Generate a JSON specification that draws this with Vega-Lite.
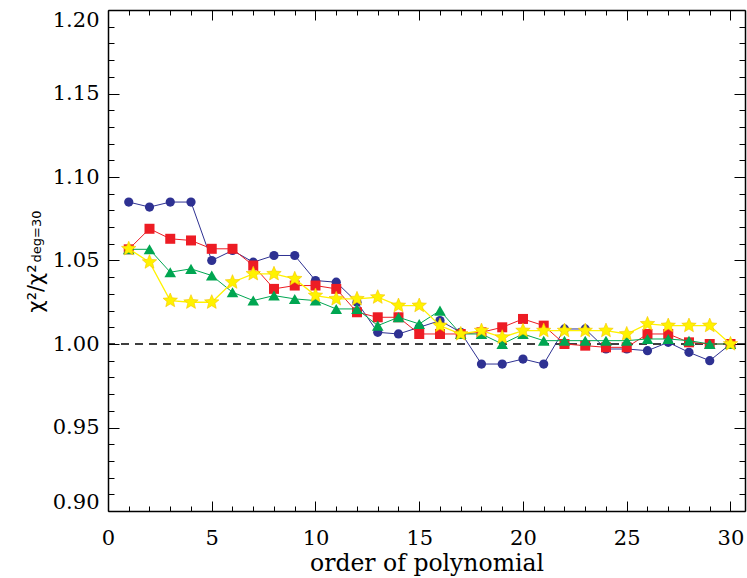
{
  "$schema": "https://vega.github.io/schema/vega-lite/v6.json",
  "width": 637,
  "height": 501,
  "autosize": "none",
  "padding": {"left": 108, "top": 10, "right": 2, "bottom": 67},
  "background": "white",
  "view": {"stroke": null},
  "config": {
    "axis": {
      "grid": false,
      "domainColor": "black",
      "domainWidth": 1.5,
      "tickColor": "black",
      "tickWidth": 1,
      "labelColor": "black",
      "labelFont": "DejaVu Serif",
      "labelFontSize": 21,
      "titleColor": "black",
      "titleFontWeight": "normal"
    }
  },
  "datasets": {
    "d": [
      {"n":1,"s":"A","v":1.085},{"n":2,"s":"A","v":1.082},{"n":3,"s":"A","v":1.085},{"n":4,"s":"A","v":1.085},{"n":5,"s":"A","v":1.050},{"n":6,"s":"A","v":1.056},{"n":7,"s":"A","v":1.049},{"n":8,"s":"A","v":1.053},{"n":9,"s":"A","v":1.053},{"n":10,"s":"A","v":1.038},{"n":11,"s":"A","v":1.037},{"n":12,"s":"A","v":1.025},{"n":13,"s":"A","v":1.007},{"n":14,"s":"A","v":1.006},{"n":15,"s":"A","v":1.010},{"n":16,"s":"A","v":1.014},{"n":17,"s":"A","v":1.007},{"n":18,"s":"A","v":0.988},{"n":19,"s":"A","v":0.988},{"n":20,"s":"A","v":0.991},{"n":21,"s":"A","v":0.988},{"n":22,"s":"A","v":1.009},{"n":23,"s":"A","v":1.009},{"n":24,"s":"A","v":0.997},{"n":25,"s":"A","v":0.997},{"n":26,"s":"A","v":0.996},{"n":27,"s":"A","v":1.001},{"n":28,"s":"A","v":0.995},{"n":29,"s":"A","v":0.990},{"n":30,"s":"A","v":1.000},
      {"n":1,"s":"B","v":1.0567},{"n":2,"s":"B","v":1.069},{"n":3,"s":"B","v":1.063},{"n":4,"s":"B","v":1.062},{"n":5,"s":"B","v":1.057},{"n":6,"s":"B","v":1.057},{"n":7,"s":"B","v":1.047},{"n":8,"s":"B","v":1.033},{"n":9,"s":"B","v":1.035},{"n":10,"s":"B","v":1.035},{"n":11,"s":"B","v":1.033},{"n":12,"s":"B","v":1.019},{"n":13,"s":"B","v":1.016},{"n":14,"s":"B","v":1.016},{"n":15,"s":"B","v":1.006},{"n":16,"s":"B","v":1.006},{"n":17,"s":"B","v":1.006},{"n":18,"s":"B","v":1.007},{"n":19,"s":"B","v":1.010},{"n":20,"s":"B","v":1.015},{"n":21,"s":"B","v":1.011},{"n":22,"s":"B","v":1.000},{"n":23,"s":"B","v":0.999},{"n":24,"s":"B","v":0.998},{"n":25,"s":"B","v":0.998},{"n":26,"s":"B","v":1.006},{"n":27,"s":"B","v":1.006},{"n":28,"s":"B","v":1.001},{"n":29,"s":"B","v":1.000},{"n":30,"s":"B","v":1.000},
      {"n":1,"s":"C","v":1.0567},{"n":2,"s":"C","v":1.0567},{"n":3,"s":"C","v":1.043},{"n":4,"s":"C","v":1.045},{"n":5,"s":"C","v":1.041},{"n":6,"s":"C","v":1.031},{"n":7,"s":"C","v":1.026},{"n":8,"s":"C","v":1.029},{"n":9,"s":"C","v":1.027},{"n":10,"s":"C","v":1.026},{"n":11,"s":"C","v":1.021},{"n":12,"s":"C","v":1.021},{"n":13,"s":"C","v":1.011},{"n":14,"s":"C","v":1.016},{"n":15,"s":"C","v":1.012},{"n":16,"s":"C","v":1.020},{"n":17,"s":"C","v":1.006},{"n":18,"s":"C","v":1.006},{"n":19,"s":"C","v":1.000},{"n":20,"s":"C","v":1.006},{"n":21,"s":"C","v":1.002},{"n":22,"s":"C","v":1.002},{"n":23,"s":"C","v":1.002},{"n":24,"s":"C","v":1.002},{"n":25,"s":"C","v":1.002},{"n":26,"s":"C","v":1.003},{"n":27,"s":"C","v":1.003},{"n":28,"s":"C","v":1.002},{"n":29,"s":"C","v":1.000},{"n":30,"s":"C","v":1.000},
      {"n":1,"s":"D","v":1.057},{"n":2,"s":"D","v":1.049},{"n":3,"s":"D","v":1.026},{"n":4,"s":"D","v":1.025},{"n":5,"s":"D","v":1.025},{"n":6,"s":"D","v":1.037},{"n":7,"s":"D","v":1.042},{"n":8,"s":"D","v":1.042},{"n":9,"s":"D","v":1.039},{"n":10,"s":"D","v":1.029},{"n":11,"s":"D","v":1.027},{"n":12,"s":"D","v":1.027},{"n":13,"s":"D","v":1.028},{"n":14,"s":"D","v":1.023},{"n":15,"s":"D","v":1.023},{"n":16,"s":"D","v":1.011},{"n":17,"s":"D","v":1.006},{"n":18,"s":"D","v":1.008},{"n":19,"s":"D","v":1.004},{"n":20,"s":"D","v":1.008},{"n":21,"s":"D","v":1.008},{"n":22,"s":"D","v":1.008},{"n":23,"s":"D","v":1.008},{"n":24,"s":"D","v":1.008},{"n":25,"s":"D","v":1.006},{"n":26,"s":"D","v":1.012},{"n":27,"s":"D","v":1.011},{"n":28,"s":"D","v":1.011},{"n":29,"s":"D","v":1.011},{"n":30,"s":"D","v":1.000}
    ],
    "ref": [{"v": 1.0}]
  },
  "resolve": {"axis": {"x": "independent", "y": "independent"}},
  "layer": [
    {
      "data": {"name": "ref"},
      "mark": {"type": "rule", "color": "black", "strokeWidth": 1.3, "strokeDash": [8, 6]},
      "encoding": {
        "y": {"field": "v", "type": "quantitative", "scale": {"domain": [0.9, 1.2], "nice": false, "zero": false}, "axis": null}
      }
    },
    {
      "data": {"name": "d"},
      "transform": [{"filter": "datum.s === 'A'"}],
      "mark": {"type": "line", "color": "#2E3192", "strokeWidth": 1},
      "encoding": {
        "x": {"field": "n", "type": "quantitative", "scale": {"domain": [0, 30.7], "nice": false, "zero": false},
          "axis": {"orient": "bottom", "values": [0,1,2,3,4,5,6,7,8,9,10,11,12,13,14,15,16,17,18,19,20,21,22,23,24,25,26,27,28,29,30],
            "labelExpr": "datum.value % 5 === 0 ? datum.label : ''", "format": "d", "labelFlush": false,
            "tickSize": {"condition": {"test": "datum.value % 5 === 0", "value": -10}, "value": -5},
            "labelPadding": 26,
            "title": "order of polynomial", "titleFont": "DejaVu Serif", "titleFontSize": 23.5, "titleY": 59, "titleBaseline": "alphabetic"}},
        "y": {"field": "v", "type": "quantitative", "scale": {"domain": [0.9, 1.2], "nice": false, "zero": false},
          "axis": {"orient": "left", "values": [0.9,0.91,0.92,0.93,0.94,0.95,0.96,0.97,0.98,0.99,1.0,1.01,1.02,1.03,1.04,1.05,1.06,1.07,1.08,1.09,1.1,1.11,1.12,1.13,1.14,1.15,1.16,1.17,1.18,1.19,1.2],
            "labelExpr": "round(datum.value * 100) % 5 === 0 ? format(datum.value, '.2f') : ''",
            "labelFlush": true, "labelFlushOffset": 1,
            "tickSize": {"condition": {"test": "round(datum.value * 100) % 5 === 0", "value": -11}, "value": -6},
            "labelPadding": 20,
            "title": "χ²/χ²", "titleFont": "DejaVu Sans", "titleFontSize": 21, "titleAngle": 270, "titleAlign": "left", "titleBaseline": "alphabetic", "titleX": -66, "titleY": 302}}
      }
    },
    {
      "data": {"name": "d"},
      "transform": [{"filter": "datum.s === 'A'"}],
      "mark": {"type": "point", "shape": "circle", "filled": true, "opacity": 1, "color": "#2E3192", "size": 85},
      "encoding": {
        "x": {"field": "n", "type": "quantitative", "scale": {"domain": [0, 30.7], "nice": false, "zero": false}, "axis": null},
        "y": {"field": "v", "type": "quantitative", "scale": {"domain": [0.9, 1.2], "nice": false, "zero": false}, "axis": null}
      }
    },
    {
      "data": {"name": "d"},
      "transform": [{"filter": "datum.s === 'B'"}],
      "mark": {"type": "line", "color": "#ED1C24", "strokeWidth": 1},
      "encoding": {
        "x": {"field": "n", "type": "quantitative", "scale": {"domain": [0, 30.7], "nice": false, "zero": false},
          "axis": {"orient": "top", "values": [0,1,2,3,4,5,6,7,8,9,10,11,12,13,14,15,16,17,18,19,20,21,22,23,24,25,26,27,28,29,30],
            "tickSize": {"condition": {"test": "datum.value % 5 === 0", "value": -10}, "value": -5},
            "labels": false, "title": null}},
        "y": {"field": "v", "type": "quantitative", "scale": {"domain": [0.9, 1.2], "nice": false, "zero": false},
          "axis": {"orient": "right", "values": [0.9,0.91,0.92,0.93,0.94,0.95,0.96,0.97,0.98,0.99,1.0,1.01,1.02,1.03,1.04,1.05,1.06,1.07,1.08,1.09,1.1,1.11,1.12,1.13,1.14,1.15,1.16,1.17,1.18,1.19,1.2],
            "tickSize": {"condition": {"test": "round(datum.value * 100) % 5 === 0", "value": -11}, "value": -6},
            "labels": false,
            "title": "deg=30", "titleFont": "DejaVu Sans", "titleFontSize": 13, "titleAngle": 270, "titleAlign": "left", "titleBaseline": "alphabetic", "titleX": -705, "titleY": 252}}
      }
    },
    {
      "data": {"name": "d"},
      "transform": [{"filter": "datum.s === 'B'"}],
      "mark": {"type": "point", "shape": "square", "filled": true, "opacity": 1, "color": "#ED1C24", "size": 100},
      "encoding": {
        "x": {"field": "n", "type": "quantitative", "scale": {"domain": [0, 30.7], "nice": false, "zero": false}, "axis": null},
        "y": {"field": "v", "type": "quantitative", "scale": {"domain": [0.9, 1.2], "nice": false, "zero": false}, "axis": null}
      }
    },
    {
      "data": {"name": "d"},
      "transform": [{"filter": "datum.s === 'C'"}],
      "mark": {"type": "line", "color": "#00A651", "strokeWidth": 1},
      "encoding": {
        "x": {"field": "n", "type": "quantitative", "scale": {"domain": [0, 30.7], "nice": false, "zero": false}, "axis": null},
        "y": {"field": "v", "type": "quantitative", "scale": {"domain": [0.9, 1.2], "nice": false, "zero": false}, "axis": null}
      }
    },
    {
      "data": {"name": "d"},
      "transform": [{"filter": "datum.s === 'C'"}],
      "mark": {"type": "point", "shape": "triangle-up", "filled": true, "opacity": 1, "color": "#00A651", "size": 135},
      "encoding": {
        "x": {"field": "n", "type": "quantitative", "scale": {"domain": [0, 30.7], "nice": false, "zero": false}, "axis": null},
        "y": {"field": "v", "type": "quantitative", "scale": {"domain": [0.9, 1.2], "nice": false, "zero": false}, "axis": null}
      }
    },
    {
      "data": {"name": "d"},
      "transform": [{"filter": "datum.s === 'D'"}],
      "mark": {"type": "line", "color": "#FFF200", "strokeWidth": 1.3},
      "encoding": {
        "x": {"field": "n", "type": "quantitative", "scale": {"domain": [0, 30.7], "nice": false, "zero": false}, "axis": null},
        "y": {"field": "v", "type": "quantitative", "scale": {"domain": [0.9, 1.2], "nice": false, "zero": false}, "axis": null}
      }
    },
    {
      "data": {"name": "d"},
      "transform": [{"filter": "datum.s === 'D'"}],
      "mark": {"type": "point", "shape": "M0,-1L0.265,-0.364L0.951,-0.309L0.428,0.139L0.588,0.809L0,0.45L-0.588,0.809L-0.428,0.139L-0.951,-0.309L-0.265,-0.364Z", "filled": true, "opacity": 1, "color": "#FFF200", "stroke": "#F5C400", "strokeWidth": 0.6, "size": 230},
      "encoding": {
        "x": {"field": "n", "type": "quantitative", "scale": {"domain": [0, 30.7], "nice": false, "zero": false}, "axis": null},
        "y": {"field": "v", "type": "quantitative", "scale": {"domain": [0.9, 1.2], "nice": false, "zero": false}, "axis": null}
      }
    }
  ]
}
